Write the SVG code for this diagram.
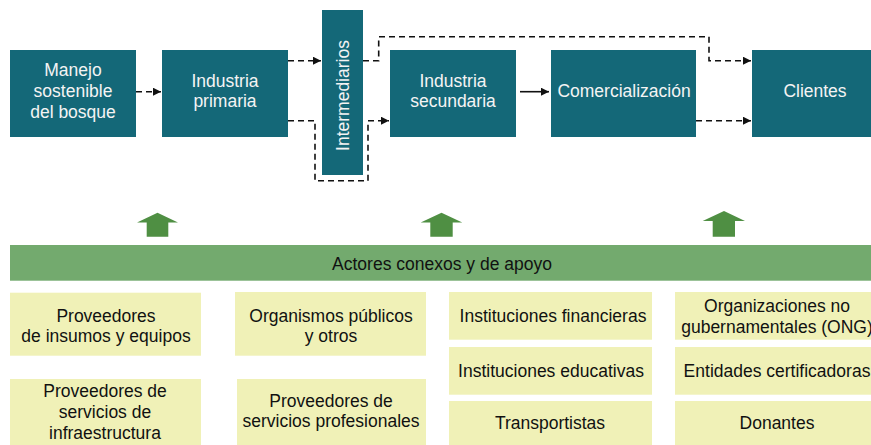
<svg xmlns="http://www.w3.org/2000/svg" width="871" height="445" viewBox="0 0 871 445">
<style>
.node{fill:#146878}
.wt{fill:#f4f4f4;font-family:"Liberation Sans",Arial,sans-serif;font-size:17.5px;text-anchor:middle}
.bt{fill:#111;font-family:"Liberation Sans",Arial,sans-serif;font-size:17.5px;text-anchor:middle}
.yb{fill:#f0f1b7}
.dash{fill:none;stroke:#111;stroke-width:1.6;stroke-dasharray:6 4}
.solid{fill:none;stroke:#111;stroke-width:1.6}
.garrow{fill:#4f8f43}
</style>
<defs>
<marker id="ah" viewBox="0 0 10 10" refX="10" refY="5" markerWidth="10" markerHeight="8" markerUnits="userSpaceOnUse" orient="auto">
<path d="M0,0 L10,5 L0,10 Z" fill="#111"/>
</marker>
</defs>
<rect width="871" height="445" fill="#fff"/>
<g id="manejo"><rect class="node" x="10" y="50" width="126" height="87"/>
<text class="wt"><tspan x="73" y="76">Manejo</tspan><tspan x="73" y="97">sostenible</tspan><tspan x="73" y="117.5">del bosque</tspan></text></g>
<g id="primaria"><rect class="node" x="162" y="50" width="126" height="87"/>
<text class="wt"><tspan x="225" y="86.5">Industria</tspan><tspan x="225" y="107">primaria</tspan></text></g>
<g id="intermediarios"><rect class="node" x="322" y="10" width="41" height="165"/>
<text class="wt" transform="translate(348.5,95.5) rotate(-90)" x="0" y="0">Intermediarios</text></g>
<g id="secundaria"><rect class="node" x="390" y="50" width="126" height="87"/>
<text class="wt"><tspan x="453" y="86.5">Industria</tspan><tspan x="453" y="107">secundaria</tspan></text></g>
<g id="comercializacion"><rect class="node" x="551" y="50" width="145" height="87"/>
<text class="wt" x="624" y="97">Comercialización</text></g>
<g id="clientes"><rect class="node" x="752" y="50" width="119" height="87"/>
<text class="wt" x="815" y="97">Clientes</text></g>
<g id="connectors">
<path class="dash" d="M136,91.7 H161" marker-end="url(#ah)"/>
<path class="dash" d="M288,60.7 H321" marker-end="url(#ah)"/>
<path class="dash" d="M288,120.7 H315 V180.7 H368 V120.7 H389" marker-end="url(#ah)"/>
<path class="dash" d="M363,60.7 H378.7 V36.7 H709 V60.7 H751" marker-end="url(#ah)"/>
<path class="solid" d="M520,91.7 H549" marker-end="url(#ah)"/>
<path class="dash" d="M696,120.7 H751" marker-end="url(#ah)"/>
</g>
<g id="up-arrows">
<path class="garrow" d="M137,222.5 L157.5,212.7 L178,222.5 H168.3 V236.7 H146.7 V222.5 Z"/>
<path class="garrow" d="M420.7,222.5 L441.5,212.7 L462.3,222.5 H452.7 V236.7 H430.3 V222.5 Z"/>
<path class="garrow" d="M702.7,221 L724,211 L745,221 H735 V236.7 H712.7 V221 Z"/>
</g>
<g id="actores"><rect x="10" y="245" width="861" height="35.7" fill="#73aa6e"/>
<text class="bt" x="442" y="269.5">Actores conexos y de apoyo</text></g>
<g id="proveedores-insumos"><rect class="yb" x="10" y="292.7" width="191" height="63"/>
<text class="bt"><tspan x="106" y="321.5">Proveedores</tspan><tspan x="106" y="342">de insumos y equipos</tspan></text></g>
<g id="proveedores-infra"><rect class="yb" x="10" y="379" width="191" height="66"/>
<text class="bt"><tspan x="105" y="397">Proveedores de</tspan><tspan x="105" y="418">servicios de</tspan><tspan x="105" y="438.5">infraestructura</tspan></text></g>
<g id="organismos"><rect class="yb" x="235" y="292" width="191" height="63.7"/>
<text class="bt"><tspan x="331" y="321.5">Organismos públicos</tspan><tspan x="331" y="342">y otros</tspan></text></g>
<g id="proveedores-prof"><rect class="yb" x="237" y="379" width="189" height="66"/>
<text class="bt"><tspan x="331" y="406.5">Proveedores de</tspan><tspan x="331" y="427">servicios profesionales</tspan></text></g>
<g id="financieras"><rect class="yb" x="449" y="292" width="203" height="47.7"/>
<text class="bt" x="553" y="322">Instituciones financieras</text></g>
<g id="educativas"><rect class="yb" x="449" y="347" width="203" height="47.7"/>
<text class="bt" x="551" y="376.5">Instituciones educativas</text></g>
<g id="transportistas"><rect class="yb" x="449" y="401" width="203" height="44"/>
<text class="bt" x="550" y="428.5">Transportistas</text></g>
<g id="ong"><rect class="yb" x="675" y="292" width="196" height="47.7"/>
<text class="bt"><tspan x="777" y="311.5">Organizaciones no</tspan><tspan x="777" y="333">gubernamentales (ONG)</tspan></text></g>
<g id="certificadoras"><rect class="yb" x="675" y="347" width="196" height="47.7"/>
<text class="bt" x="777" y="377">Entidades certificadoras</text></g>
<g id="donantes"><rect class="yb" x="675" y="401" width="196" height="44"/>
<text class="bt" x="777" y="429">Donantes</text></g>
</svg>
